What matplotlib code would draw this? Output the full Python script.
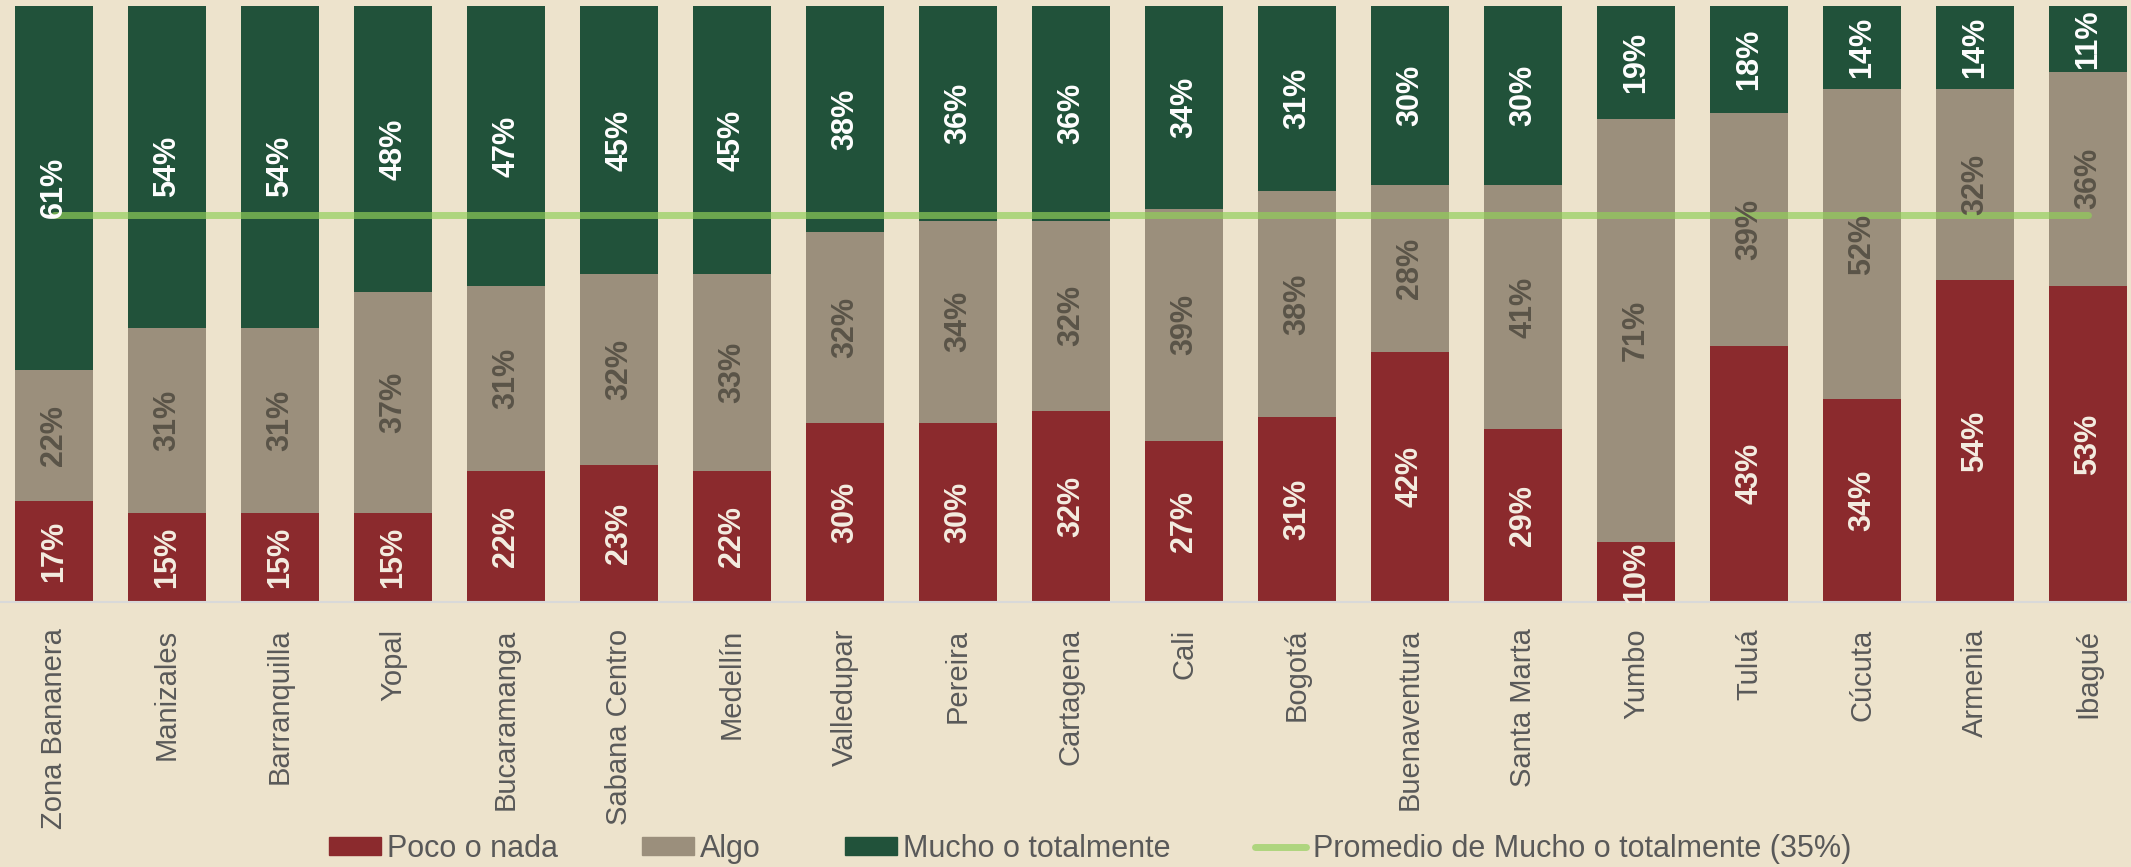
import matplotlib
matplotlib.use("Agg")
import matplotlib.pyplot as plt
from matplotlib.patches import Patch
from matplotlib.lines import Line2D
import numpy as np

CITIES = ["Zona Bananera", "Manizales", "Barranquilla", "Yopal", "Bucaramanga",
          "Sabana Centro", "Medellín", "Valledupar", "Pereira", "Cartagena", "Cali",
          "Bogotá", "Buenaventura", "Santa Marta", "Yumbo", "Tuluá", "Cúcuta",
          "Armenia", "Ibagué"]
POCO = [17, 15, 15, 15, 22, 23, 22, 30, 30, 32, 27, 31, 42, 29, 10, 43, 34, 54, 53]
ALGO = [22, 31, 31, 37, 31, 32, 33, 32, 34, 32, 39, 38, 28, 41, 71, 39, 52, 32, 36]
MUCHO = [61, 54, 54, 48, 47, 45, 45, 38, 36, 36, 34, 31, 30, 30, 19, 18, 14, 14, 11]
PROMEDIO = 35
SERIES = ["Poco o nada", "Algo", "Mucho o totalmente"]

BG = "#ede3cc"
RED = "#8b2a2d"
GRAY = "#9b8f7c"
GREEN = "#21523a"
LINE = "#91cf59"
TXT = "#595959"

plt.rcParams["font.family"] = ["Liberation Sans", "DejaVu Sans"]

fig = plt.figure(figsize=(21.31, 8.67), dpi=100, facecolor=BG)
ax = fig.add_axes([0, 1 - 602 / 867, 1, 596 / 867])
ax.set_facecolor(BG)

x = np.arange(len(CITIES))
poco = np.array(POCO)
algo = np.array(ALGO)
mucho = np.array(MUCHO)

w = 0.69
b1 = ax.bar(x, poco, w, color=RED, zorder=2)
b2 = ax.bar(x, algo, w, bottom=poco, color=GRAY, zorder=2)
b3 = ax.bar(x, mucho, w, bottom=poco + algo, color=GREEN, zorder=2)

# average line
ax.plot(x, np.full(len(x), 100 - PROMEDIO), color=LINE, alpha=0.68, lw=5,
        solid_capstyle="round", zorder=3)

for bars, col in [(b1, "#f4ede1"), (b2, "#5a5448"), (b3, "white")]:
    ax.bar_label(bars, labels=[f"{int(round(b.get_height()))}%" for b in bars],
                 label_type="center", rotation=90, color=col, fontsize=22,
                 fontweight="bold", zorder=4)

ax.set_xlim(-54 / 113, (2131 - 54) / 113)
ax.set_ylim(0, 100)
ax.set_yticks([])
ax.set_xticks(x, labels=CITIES, rotation=90, fontsize=21, color=TXT, va="top")
ax.tick_params(axis="x", length=0, pad=19)
for s in ["top", "left", "right"]:
    ax.spines[s].set_visible(False)
ax.spines["bottom"].set_color("#d9d9d9")
ax.spines["bottom"].set_linewidth(1.5)

handles = [Patch(color=RED), Patch(color=GRAY), Patch(color=GREEN),
           Line2D([], [], color=LINE, alpha=0.68, lw=5, solid_capstyle="round")]
labels = SERIES + [f"Promedio de Mucho o totalmente ({PROMEDIO}%)"]
fig.legend(handles, labels, loc="center", bbox_to_anchor=(1090 / 2131, 1 - 849 / 867),
           ncol=4, frameon=False, fontsize=22, labelcolor=TXT, handlelength=1.7,
           handleheight=0.55, handletextpad=0.2, columnspacing=2.75)

fig.savefig("out.png", dpi=100, facecolor=BG)
